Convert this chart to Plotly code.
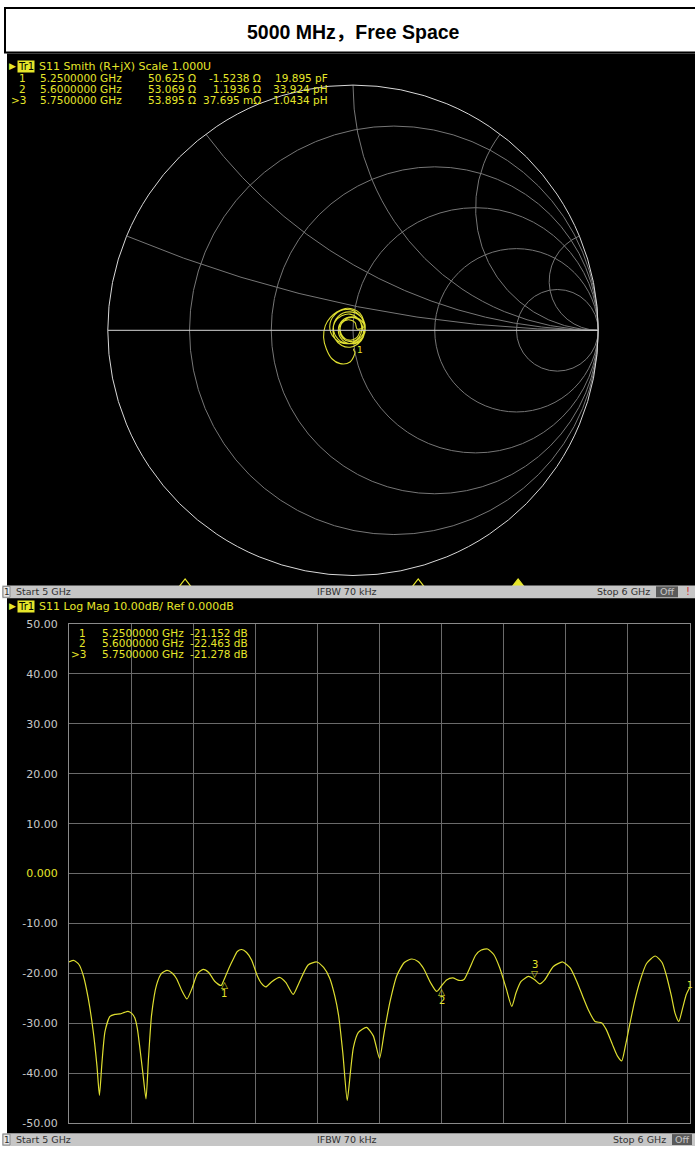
import plotly.graph_objects as go

W, H = 695, 1153
def fx(x): return x / W
def fy(y): return 1 - y / H

# ---------------- data ----------------
freq_ghz = [5.000, 5.008, 5.016, 5.023, 5.031, 5.039, 5.045, 5.049, 5.053, 5.058, 5.066, 5.074, 5.082, 5.089,
            5.095, 5.101, 5.106, 5.110, 5.114, 5.119, 5.124, 5.128, 5.133, 5.141, 5.149, 5.158, 5.166, 5.173,
            5.182, 5.190, 5.198, 5.207, 5.216, 5.225, 5.235, 5.245, 5.250, 5.258, 5.265, 5.271, 5.278, 5.286,
            5.294, 5.303, 5.310, 5.317, 5.326, 5.339, 5.349, 5.361, 5.370, 5.385, 5.399, 5.410, 5.420, 5.428,
            5.434, 5.441, 5.448, 5.453, 5.458, 5.466, 5.479, 5.490, 5.500, 5.508, 5.517, 5.528, 5.540, 5.552,
            5.562, 5.571, 5.582, 5.592, 5.600, 5.608, 5.618, 5.628, 5.636, 5.645, 5.655, 5.664, 5.674, 5.684,
            5.694, 5.704, 5.713, 5.720, 5.728, 5.740, 5.750, 5.758, 5.766, 5.780, 5.795, 5.807, 5.818, 5.827,
            5.836, 5.847, 5.858, 5.865, 5.875, 5.883, 5.890, 5.896, 5.903, 5.911, 5.919, 5.930, 5.944, 5.955,
            5.962, 5.970, 5.976, 5.982, 5.988, 5.994, 6.000]
s11_db = [-17.7, -17.4, -18.2, -20.4, -25.0, -31.6, -38.5, -44.4, -38.0, -31.6, -28.6, -28.2, -28.1, -27.8,
          -27.6, -28.0, -28.9, -31.0, -34.8, -40.0, -45.1, -37.0, -28.3, -22.3, -20.0, -19.4, -19.9, -21.0,
          -23.5, -25.1, -23.0, -20.0, -19.2, -19.8, -21.6, -22.4, -21.15, -18.8, -17.0, -15.6, -15.2, -15.8,
          -17.3, -20.4, -22.0, -22.7, -21.7, -20.8, -21.8, -24.2, -22.0, -18.3, -17.7, -18.8, -21.0, -24.5,
          -28.3, -36.0, -45.4, -40.0, -34.8, -31.8, -30.8, -32.5, -37.0, -31.5, -25.6, -20.4, -17.8, -17.1,
          -17.6, -19.0, -21.8, -23.6, -22.46, -21.3, -20.9, -21.4, -21.2, -19.0, -16.3, -15.3, -15.1, -16.2,
          -19.0, -23.0, -26.6, -23.8, -21.6, -20.6, -21.28, -22.1, -21.3, -18.6, -17.7, -18.9, -21.7, -24.5,
          -27.2, -29.6, -29.9, -31.2, -34.2, -36.5, -37.5, -34.5, -30.2, -25.5, -21.7, -18.0, -16.5, -17.8,
          -20.4, -24.5, -28.0, -29.6, -27.0, -24.2, -22.7]

# Smith chart trace: reflection coefficient (re, im)
gamma_re = [0.002, 0.004, 0.008, -0.012, -0.052, -0.086, -0.109, -0.120, -0.113, -0.093, -0.066, -0.032, 0.001,
            0.028, 0.044, 0.048, 0.042, 0.021, -0.012, -0.046, -0.073, -0.082, -0.073, -0.046, -0.012, 0.017,
            0.035, 0.032, 0.015, -0.015, -0.042, -0.055, -0.046, -0.019, 0.008, 0.017,
            0.045, 0.025, -0.025, -0.074, -0.095, -0.074, -0.025, 0.025,
            0.050, 0.031, -0.015, -0.061, -0.080, -0.061, -0.015, 0.031,
            0.050, 0.034, -0.005, -0.044, -0.060, -0.044, -0.005, 0.034,
            0.040, 0.020, -0.020, -0.050, -0.045, -0.015, 0.015, 0.030]
gamma_im = [-0.075, -0.083, -0.089, -0.129, -0.136, -0.116, -0.075, -0.028, 0.019, 0.052, 0.075, 0.089, 0.086,
            0.070, 0.039, 0.005, -0.028, -0.055, -0.069, -0.062, -0.035, -0.001, 0.035, 0.059, 0.066, 0.052,
            0.019, -0.015, -0.038, -0.046, -0.032, -0.001, 0.029, 0.043, 0.032, 0.005,
            0.015, 0.064, 0.085, 0.064, 0.015, -0.034, -0.055, -0.034,
            0.010, 0.056, 0.075, 0.056, 0.010, -0.036, -0.055, -0.036,
            0.000, 0.039, 0.055, 0.039, 0.000, -0.039, -0.055, -0.039,
            0.010, 0.045, 0.050, 0.020, -0.020, -0.040, -0.030, 0.000]

marker_ids = ["1", "2", ">3"]
marker_freq = [5.25, 5.60, 5.75]
marker_freq_txt = ["5.2500000 GHz", "5.6000000 GHz", "5.7500000 GHz"]
marker_db = [-21.152, -22.463, -21.278]
marker_R = ["50.625 Ω", "53.069 Ω", "53.895 Ω"]
marker_X = ["-1.5238 Ω", "1.1936 Ω", "37.695 mΩ"]
marker_LC = ["19.895 pF", "33.924 pH", "1.0434 pH"]

y_ticks = [50, 40, 30, 20, 10, 0, -10, -20, -30, -40, -50]
x_ticks = [5.0, 5.1, 5.2, 5.3, 5.4, 5.5, 5.6, 5.7, 5.8, 5.9, 6.0]

YEL = "#e6e62a"
TRACE = "#dede30"
GRID = "#6a6a6a"
FONT = "DejaVu Sans"

# ---------------- figure ----------------
fig = go.Figure()

z = [complex(1 + a, b) / complex(1 - a, -b) for a, b in zip(gamma_re, gamma_im)]
fig.add_trace(go.Scattersmith(real=[c.real for c in z], imag=[c.imag for c in z], mode="lines",
                              line=dict(color=TRACE, width=1.1, shape="spline", smoothing=1),
                              showlegend=False, hoverinfo="skip"))

fig.add_trace(go.Scatter(x=freq_ghz, y=s11_db, mode="lines", line=dict(color=TRACE, width=1.2, shape="spline", smoothing=0.6),
                         showlegend=False, hoverinfo="skip", xaxis="x", yaxis="y"))

# marker triangles under each panel
active = [False, False, True]
for f, a in zip(marker_freq, active):
    sym = "triangle-up" if a else "triangle-up-open"
    fig.add_trace(go.Scatter(x=[f], y=[-51], mode="markers", marker=dict(symbol=sym, size=10, color=YEL, line=dict(color=YEL, width=1.2)),
                             cliponaxis=False, showlegend=False, hoverinfo="skip", xaxis="x", yaxis="y"))
    fig.add_trace(go.Scatter(x=[f], y=[0.5], mode="markers", marker=dict(symbol=sym, size=10, color=YEL, line=dict(color=YEL, width=1.2)),
                             cliponaxis=False, showlegend=False, hoverinfo="skip", xaxis="x2", yaxis="y2"))

# reference level triangles
fig.add_trace(go.Scatter(x=[4.991], y=[0], mode="markers", marker=dict(symbol="triangle-right", size=11, color=YEL),
                         cliponaxis=False, showlegend=False, hoverinfo="skip"))
fig.add_trace(go.Scatter(x=[6.004], y=[0], mode="markers", marker=dict(symbol="triangle-left", size=9, color=YEL),
                         cliponaxis=False, showlegend=False, hoverinfo="skip"))

ticktext = []
for v in y_ticks:
    if v == 0:
        ticktext.append('<span style="color:%s">0.000</span>' % YEL)
    else:
        ticktext.append("%.2f" % v)

fig.update_layout(
    width=W, height=H, margin=dict(l=0, r=0, t=0, b=0),
    paper_bgcolor="white", plot_bgcolor="black",
    font=dict(family=FONT, size=11, color="#c8c8c8"),
    xaxis=dict(domain=[fx(69), fx(690)], range=[5, 6], tickvals=x_ticks, showticklabels=False, ticks="",
               showgrid=True, gridcolor=GRID, gridwidth=1, zeroline=False, showline=True, linecolor="#8a8a8a", mirror=True),
    yaxis=dict(domain=[fy(1130), fy(625)], range=[-50, 50], tickvals=y_ticks, ticktext=ticktext, ticks="",
               showgrid=True, gridcolor=GRID, gridwidth=1, zeroline=False, showline=True, linecolor="#8a8a8a", mirror=True,
               tickfont=dict(family=FONT, size=11, color="#c8c8c8"), ticklabelstandoff=8),
    xaxis2=dict(domain=[fx(18.6), fx(684.6)], range=[5, 6], visible=False),
    yaxis2=dict(domain=[fy(592), fy(577)], range=[0, 1], visible=False),
    smith=dict(
        domain=dict(x=[fx(105), fx(601)], y=[fy(576), fy(80)]),
        bgcolor="black",
        realaxis=dict(tickvals=[0.2, 0.5, 1, 2, 5], showticklabels=False, ticks="", gridcolor="#767676",
                      linecolor="#d8d8d8", showline=True, showgrid=True),
        imaginaryaxis=dict(tickvals=[0.2, 0.5, 1, 2, 5], showticklabels=False, ticks="", gridcolor="#767676",
                           linecolor="#d8d8d8", showline=True, showgrid=True),
    ),
)

shapes = []
# instrument screen background
shapes.append(dict(type="rect", xref="paper", yref="paper", x0=fx(7), x1=fx(695), y0=fy(1153), y1=fy(48),
                   fillcolor="black", line=dict(width=0), layer="below"))
# title box
shapes.append(dict(type="rect", xref="paper", yref="paper", x0=fx(5), x1=fx(697), y0=fy(47), y1=fy(2),
                   fillcolor="white", line=dict(color="black", width=2), layer="below"))
# status bars
for y0 in (586, 1140):
    shapes.append(dict(type="rect", xref="paper", yref="paper", x0=fx(2), x1=fx(695), y0=fy(y0 + 13), y1=fy(y0),
                       fillcolor="#c6c6c6", line=dict(width=0), layer="above"))
    shapes.append(dict(type="rect", xref="paper", yref="paper", x0=fx(3), x1=fx(10), y0=fy(y0 + 12), y1=fy(y0 + 1),
                       fillcolor="#e6e6e6", line=dict(color="#8a8a8a", width=1), layer="above"))
shapes.append(dict(type="rect", xref="paper", yref="paper", x0=fx(656), x1=fx(678), y0=fy(598), y1=fy(587),
                   fillcolor="#5a5a5a", line=dict(width=0), layer="above"))
shapes.append(dict(type="rect", xref="paper", yref="paper", x0=fx(672), x1=fx(692), y0=fy(1152), y1=fy(1141),
                   fillcolor="#5a5a5a", line=dict(width=0), layer="above"))
fig.update_layout(shapes=shapes)

ann = []
def txt(x, y, s, size=10.5, color=YEL, anchor="left", family=FONT, bg=None, bold=False):
    d = dict(x=fx(x), y=fy(y), xref="paper", yref="paper", text=("<b>%s</b>" % s if bold else s), showarrow=False,
             xanchor=anchor, yanchor="middle", font=dict(family=family, size=size, color=color))
    if bg:
        d["bgcolor"] = bg
        d["borderpad"] = 0
    ann.append(d)

txt(353, 26, "5000 MHz，Free Space", size=19.5, color="black", anchor="center",
    family="Liberation Sans, Arial, Noto Sans CJK SC", bold=True)

# headers
txt(7, 61, "▶", size=9)
txt(17, 61, "Tr1", size=10, color="black", bg=YEL)
txt(37, 61, "S11 Smith (R+jX) Scale 1.000U", size=11)
txt(7, 607, "▶", size=9)
txt(17, 607, "Tr1", size=10, color="black", bg=YEL)
txt(37, 607, "S11 Log Mag 10.00dB/ Ref 0.000dB", size=11)

# smith marker table
for i in range(3):
    y = 73 + 11 * i
    txt(28, y, marker_ids[i], anchor="right")
    txt(38, y, marker_freq_txt[i])
    txt(146, y, marker_R[i])
    txt(263, y, marker_X[i], anchor="right")
    txt(330, y, marker_LC[i], anchor="right")

# log marker table
for i in range(3):
    y = 634 + 10.5 * i
    txt(88, y, marker_ids[i], anchor="right")
    txt(100, y, marker_freq_txt[i])
    txt(188, y, "%.3f dB" % marker_db[i])

# markers on log trace
for i, (f, d) in enumerate(zip(marker_freq, marker_db)):
    lab = marker_ids[i].replace(">", "")
    if i < 2:
        ann.append(dict(x=f, y=d, xref="x", yref="y", text="△", showarrow=False, yanchor="top", yshift=1,
                        font=dict(family=FONT, size=9, color=YEL)))
        ann.append(dict(x=f, y=d, xref="x", yref="y", text=lab, showarrow=False, yanchor="top", yshift=-7,
                        font=dict(family=FONT, size=10, color=YEL)))
    else:
        ann.append(dict(x=f, y=d, xref="x", yref="y", text="▽", showarrow=False, yanchor="bottom", yshift=-1,
                        font=dict(family=FONT, size=9, color=YEL)))
        ann.append(dict(x=f, y=d, xref="x", yref="y", text=lab, showarrow=False, yanchor="bottom", yshift=8,
                        font=dict(family=FONT, size=10, color=YEL)))

txt(355, 348, "1", size=9)
txt(695, 990, "1", size=9, anchor="right")

# status bar texts
for y in (592.5, 1146.5):
    txt(6.5, y, "1", size=9, color="#303030", anchor="center")
    txt(14, y, "Start 5 GHz", size=9.5, color="#303030")
    txt(347, y, "IFBW 70 kHz", size=9.5, color="#303030", anchor="center")
txt(652, 592.5, "Stop 6 GHz", size=9.5, color="#303030", anchor="right")
txt(667, 592.5, "Off", size=9.5, color="#c8c8c8", anchor="center")
txt(684, 592.5, "!", size=10, color="#d03030")
txt(668, 1146.5, "Stop 6 GHz", size=9.5, color="#303030", anchor="right")
txt(682, 1146.5, "Off", size=9.5, color="#c8c8c8", anchor="center")

fig.update_layout(annotations=ann)
fig.write_html("out.html")
